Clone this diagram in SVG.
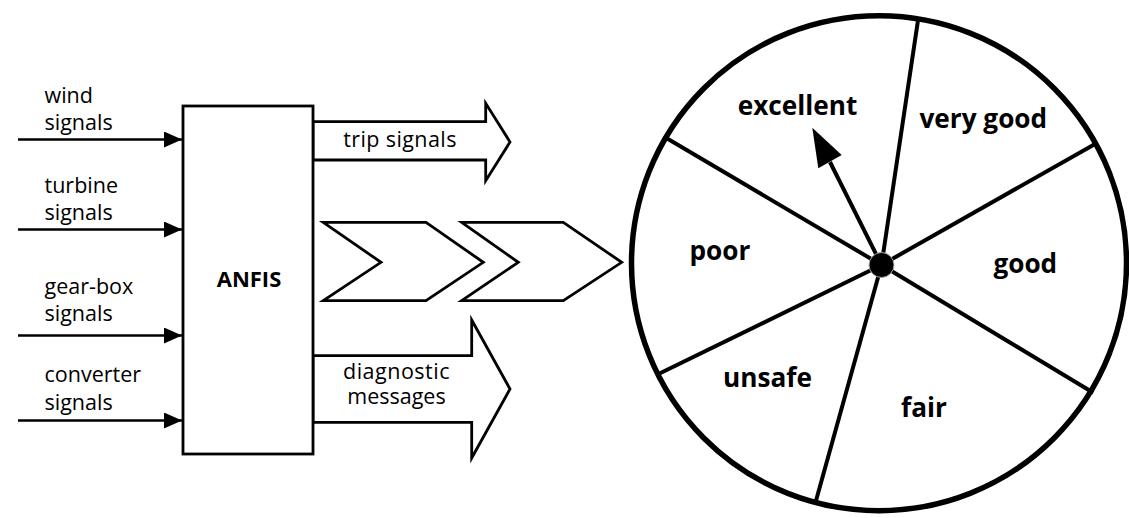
<svg xmlns="http://www.w3.org/2000/svg" width="1129" height="518" viewBox="0 0 1129 518">
<style>
.lbl{font-family:"Open Sans","Liberation Sans",sans-serif;font-size:21.5px;fill:#000}
.bl{font-family:"Open Sans","Liberation Sans",sans-serif;font-size:26.2px;font-weight:bold;fill:#000}
.blk{fill:#fff;stroke:#000;stroke-width:2.8;stroke-linejoin:miter}
.in{stroke:#000;stroke-width:2.7;fill:none}
.spoke{stroke:#000;stroke-width:4;fill:none}
</style>
<defs>
<marker id="ah" markerUnits="userSpaceOnUse" markerWidth="18" markerHeight="16" refX="18" refY="8" orient="auto">
<path d="M0,0 L18,8 L0,16 Z" fill="#000"/>
</marker>
</defs>
<rect width="1129" height="518" fill="#fff"/>
<g id="connectors">
<line class="in" x1="18" y1="139.5" x2="182" y2="139.5" marker-end="url(#ah)"/>
<line class="in" x1="18" y1="229.5" x2="182" y2="229.5" marker-end="url(#ah)"/>
<line class="in" x1="18" y1="335.5" x2="182" y2="335.5" marker-end="url(#ah)"/>
<line class="in" x1="18" y1="420.5" x2="182" y2="420.5" marker-end="url(#ah)"/>
</g>
<g id="inputs">
<text class="lbl" x="44.5" y="103">wind</text>
<text class="lbl" x="44.5" y="130">signals</text>
<text class="lbl" x="44.5" y="192.5">turbine</text>
<text class="lbl" x="44.5" y="220">signals</text>
<text class="lbl" x="44.5" y="294">gear-box</text>
<text class="lbl" x="44.5" y="321">signals</text>
<text class="lbl" x="44.5" y="382">converter</text>
<text class="lbl" x="44.5" y="409.5">signals</text>
</g>
<g id="trip">
<polygon class="blk" points="313,121.7 485.7,121.7 485.7,103.3 510,142 485.7,180.7 485.7,160 313,160"/>
<text class="lbl" x="400" y="147.3" text-anchor="middle" letter-spacing="0.4">trip signals</text>
</g>
<g id="diagnostic">
<polygon class="blk" points="313,355.7 471.7,355.7 471.7,320 510,389 471.7,458 471.7,422.3 313,422.3"/>
<text class="lbl" x="396.5" y="379.3" text-anchor="middle" letter-spacing="0.5">diagnostic</text>
<text class="lbl" x="396.5" y="403.8" text-anchor="middle">messages</text>
</g>
<g id="anfis">
<rect class="blk" x="183" y="106" width="130" height="348"/>
<text class="bl" x="249" y="286.7" text-anchor="middle" style="font-size:22px">ANFIS</text>
</g>
<g id="chevrons">
<polygon class="blk" stroke-width="3" points="323.3,222.3 426,222.3 483.3,262.3 426,300.7 323.3,300.7 381,262.3"/>
<polygon class="blk" stroke-width="3" points="461.7,222.3 563.3,222.3 621.7,262.3 563.3,300.7 461.7,300.7 518.3,262.3"/>
</g>
<g id="wheel">
<circle cx="879" cy="263.2" r="247.5" fill="#fff" stroke="#000" stroke-width="5.5"/>
<line class="spoke" x1="881.5" y1="265" x2="918.3" y2="18.3"/>
<line class="spoke" x1="881.5" y1="265" x2="815.7" y2="501.7"/>
<line class="spoke" x1="881.5" y1="265" x2="666.7" y2="138.3"/>
<line class="spoke" x1="881.5" y1="265" x2="1097.3" y2="142.7"/>
<line class="spoke" x1="881.5" y1="265" x2="660" y2="373.3"/>
<line class="spoke" x1="881.5" y1="265" x2="1093.3" y2="392.7"/>
<line class="spoke" x1="881.5" y1="265" x2="830" y2="162"/>
<polygon points="812.3,127.7 818.3,168.3 841.7,155" fill="#000"/>
<circle cx="881.5" cy="265" r="12.5" fill="#000" stroke="#aaa" stroke-width="1"/>
<text class="bl" x="797.5" y="115" text-anchor="middle">excellent</text>
<text class="bl" x="983.3" y="128" text-anchor="middle">very good</text>
<text class="bl" x="720" y="260" text-anchor="middle">poor</text>
<text class="bl" x="1025.3" y="273.3" text-anchor="middle">good</text>
<text class="bl" x="767.5" y="387.3" text-anchor="middle">unsafe</text>
<text class="bl" x="924" y="416.7" text-anchor="middle">fair</text>
</g>
</svg>
